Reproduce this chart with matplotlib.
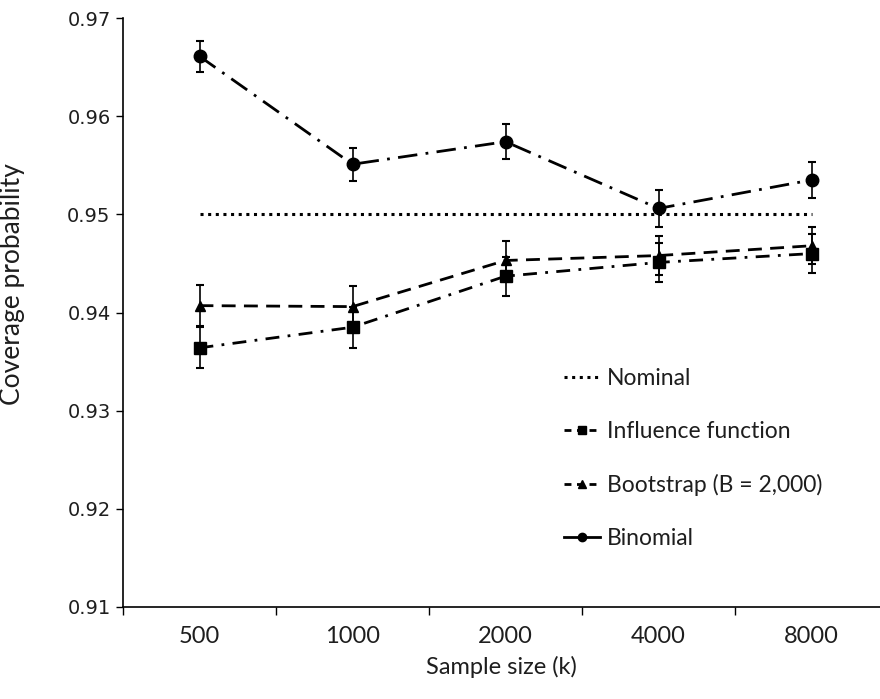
import numpy as np
import matplotlib
matplotlib.use('agg')
from matplotlib import pyplot as plt
from matplotlib.lines import Line2D

# coverage results by sample size
sizes = ['500', '1000', '2000', '4000', '8000']
nominal = [0.95, 0.95, 0.95, 0.95, 0.95]
influence = [0.9364, 0.9385, 0.9437, 0.9451, 0.9460]
influence_err = [0.0021, 0.0021, 0.0020, 0.0020, 0.0020]
bootstrap = [0.9407, 0.9406, 0.9453, 0.9458, 0.9468]
bootstrap_err = [0.0021, 0.0021, 0.0020, 0.0020, 0.0019]
binomial = [0.9661, 0.9551, 0.9574, 0.9506, 0.9535]
binomial_err = [0.0016, 0.0017, 0.0018, 0.0019, 0.0018]

labelFont = ['Lato', 'DejaVu Sans']
textColor = '#1e1e1e'
dotted = (0, (1, 1.5))

fig = plt.figure(figsize=(8.8, 6.99), dpi=100)
ax = fig.add_axes([123/880, 1 - 607/699, 757/880, 589/699])

x = np.arange(len(sizes))

# nominal level
ax.plot(x, nominal, color='black', lw=2.2, linestyle=dotted, dash_capstyle='butt')

# influence function: dash-dot
ax.errorbar(x, influence, yerr=influence_err, fmt='none', ecolor='black', elinewidth=1.2, capsize=3, capthick=1.5)
ax.plot(x, influence, color='black', lw=2, linestyle=(0, (5, 3, 1, 3)), marker='s', markersize=8)

# bootstrap: dashed
ax.errorbar(x, bootstrap, yerr=bootstrap_err, fmt='none', ecolor='black', elinewidth=1.2, capsize=3, capthick=1.5)
ax.plot(x, bootstrap, color='black', lw=2, linestyle=(0, (5, 3)), marker='^', markersize=7)

# binomial: long dash-dot
ax.errorbar(x, binomial, yerr=binomial_err, fmt='none', ecolor='black', elinewidth=1.2, capsize=3, capthick=1.5)
ax.plot(x, binomial, color='black', lw=2, linestyle=(0, (7, 3, 1, 3)), marker='o', markersize=9)

ax.set_ylim(0.91, 0.97)
ax.set_yticks(np.arange(0.91, 0.9701, 0.01))
ax.set_yticklabels(['%.2f' % v for v in np.arange(0.91, 0.9701, 0.01)])
ax.set_xlim(-0.5, 757/153 - 0.5)
ax.set_xticks(x)
ax.set_xticklabels(sizes)
ax.set_xticks(np.arange(len(sizes)) - 0.5, minor=True)
ax.tick_params(axis='x', which='major', length=0, pad=14, labelcolor=textColor)
ax.tick_params(axis='x', which='minor', length=6, width=1, direction='out')
ax.tick_params(axis='y', length=5, width=1, direction='out', labelsize=14, pad=4, labelcolor=textColor)
for t in ax.get_xticklabels():
    t.set_family(labelFont)
    t.set_fontsize(17)

for s in ['top', 'right']:
    ax.spines[s].set_visible(False)
for s in ['left', 'bottom']:
    ax.spines[s].set_linewidth(1.2)

ax.set_xlabel('Sample size (k)', family=labelFont, fontsize=17, labelpad=6, color=textColor)
ax.set_ylabel('Coverage probability', family=labelFont, fontsize=19, color=textColor)
ax.yaxis.set_label_coords(-0.13, 0.548)

handles = [
    Line2D([], [], color='black', lw=2.2, linestyle=dotted),
    Line2D([], [], color='black', lw=2, linestyle=(0, (2.5, 2)), marker='s', markersize=6),
    Line2D([], [], color='black', lw=2, linestyle=(0, (2.5, 2)), marker='^', markersize=6),
    Line2D([], [], color='black', lw=2, linestyle='-', marker='o', markersize=6),
]
names = ['Nominal', 'Influence function', 'Bootstrap (B = 2,000)', 'Binomial']
leg = ax.legend(handles, names, loc='upper left', bbox_to_anchor=(0.555, 0.441), frameon=False,
                prop={'family': labelFont, 'size': 16.5}, labelspacing=1.4, handlelength=1.6,
                handletextpad=0.3)
for t in leg.get_texts():
    t.set_color(textColor)

fig.savefig('out.png', dpi=100)
